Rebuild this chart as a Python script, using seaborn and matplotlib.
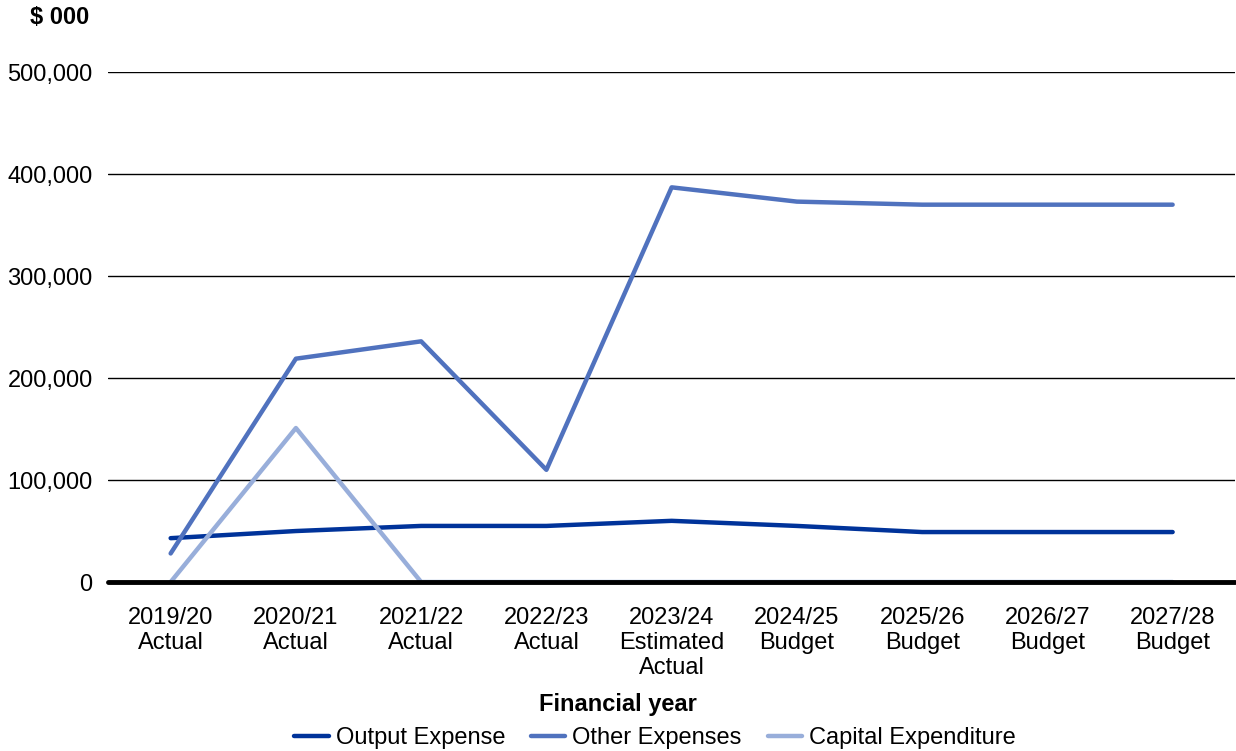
import pandas as pd
import seaborn as sns
import matplotlib.pyplot as plt
from matplotlib.ticker import FuncFormatter

# Data ($ 000)
years = ['2019/20\nActual', '2020/21\nActual', '2021/22\nActual', '2022/23\nActual',
         '2023/24\nEstimated\nActual', '2024/25\nBudget', '2025/26\nBudget',
         '2026/27\nBudget', '2027/28\nBudget']
output_expense = [43000, 50000, 55000, 55000, 60000, 55000, 49000, 49000, 49000]
other_expenses = [28000, 219000, 236000, 110000, 387000, 373000, 370000, 370000, 370000]
capital_expenditure = [0, 151000, 0, 0, 0, 0, 0, 0, 0]
series_names = ['Output Expense', 'Other Expenses', 'Capital Expenditure']
colors = ['#00339A', '#5072BE', '#98AEDA']

# Long format for seaborn
rows = []
for name, vals in zip(series_names, [output_expense, other_expenses, capital_expenditure]):
    for i, v in enumerate(vals):
        rows.append({'pos': i, 'year': years[i], 'series': name, 'value': v})
df = pd.DataFrame(rows)

sns.set_style('white')
plt.rcParams['font.family'] = ['Liberation Sans', 'DejaVu Sans']
plt.rcParams['text.color'] = 'black'
plt.rcParams['xtick.color'] = 'black'
plt.rcParams['ytick.color'] = 'black'
plt.rcParams['axes.labelcolor'] = 'black'

fs = 17

fig = plt.figure(figsize=(12.36, 7.51), dpi=100)
ax = fig.add_axes([0.0874, 0.225, 0.912, 0.679])

sns.lineplot(data=df, x='pos', y='value', hue='series', hue_order=series_names,
             palette=colors, linewidth=3.2, ax=ax, legend=True, zorder=3)

ax.set_xlim(-0.5, len(years) - 0.5)
ax.set_ylim(0, 500000)
ax.set_yticks(range(0, 500001, 100000))
ax.yaxis.set_major_formatter(FuncFormatter(lambda v, p: f'{int(v):,}'))
ax.set_xticks(range(len(years)))
ax.set_xticklabels(years, fontsize=fs, linespacing=1.18)
ax.tick_params(axis='y', labelsize=fs, length=0, pad=11)
ax.tick_params(axis='x', length=0, pad=18)

for y in range(100000, 500001, 100000):
    ax.axhline(y, color='black', linewidth=1, zorder=1)
ax.axhline(0, color='black', linewidth=3.5, zorder=4, clip_on=False)

for s in ax.spines.values():
    s.set_visible(False)

ax.set_xlabel('')
ax.set_ylabel('')
fig.text(0.5, 1 - 705 / 751, 'Financial year', fontsize=fs, fontweight='bold', ha='center', va='center')
fig.text(0.024, 1 - 18 / 751, '$ 000', fontsize=fs, fontweight='bold', va='center', ha='left')

handles, labels = ax.get_legend_handles_labels()
ax.legend(handles, labels, loc='center', bbox_to_anchor=(0.53, 1 - 738 / 751), bbox_transform=fig.transFigure,
          ncol=3, frameon=False, fontsize=fs, handlelength=1.45, columnspacing=1.1, handletextpad=0.3)

fig.savefig('out.png', dpi=100)
